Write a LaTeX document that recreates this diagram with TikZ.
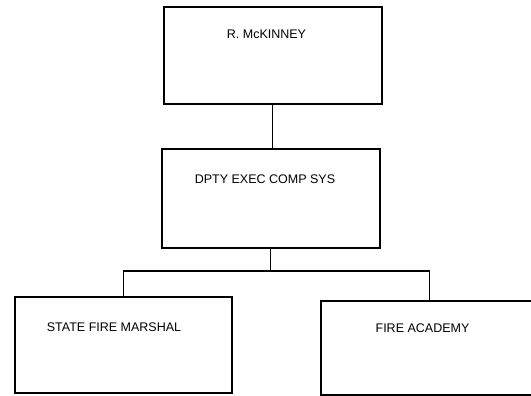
\documentclass[tikz,border=0pt]{standalone}
\usepackage{fontspec}
\setmainfont{Liberation Sans}
\usetikzlibrary{positioning}
\tikzset{
    % Org chart boxes
    unit/.style = {draw=black, line width=2pt, rectangle, inner sep=0pt,
        minimum width=218pt, minimum height=97pt},
    caption/.style = {inner sep=0pt, font=\fontsize{12.5}{14}\selectfont},
    % Reporting lines
    link/.style = {line width=1.8pt}
}

\begin{document}
\begin{tikzpicture}[x=1pt, y=1pt]
    \clip (0,0) rectangle (531,-396);

    \node (mckinney) [unit] at (272.5,-55.5) {};
    \node (dpty) [unit, minimum height=99pt, below=43pt of mckinney, xshift=-2pt] {};
    \node (marshal) [unit, minimum width=217pt, minimum height=96pt] at (123.5,-345) {};
    \node (academy) [unit, minimum width=217pt, minimum height=94pt] at (429.5,-348) {};

    \node (mckinney-txt) [caption, below=23.5pt of mckinney.north, xshift=-6pt] {R. McKINNEY};
    \node (dpty-txt) [caption, below=26.5pt of dpty.north, xshift=-5.5pt] {DPTY EXEC COMP SYS};
    \node (marshal-txt) [caption, below=26.5pt of marshal.north, xshift=-9.5pt] {STATE FIRE MARSHAL};
    \node (academy-txt) [caption, below=23.5pt of academy.north, xshift=-7pt] {FIRE ACADEMY};

    \coordinate (bar) at (0,-271);
    \draw [link] (mckinney.south) -- (mckinney.south |- dpty.north);
    \draw [link] (dpty.south) -- (dpty.south |- bar);
    \draw [link] (marshal.north) |- (academy.north |- bar) -- (academy.north);
\end{tikzpicture}
\end{document}
